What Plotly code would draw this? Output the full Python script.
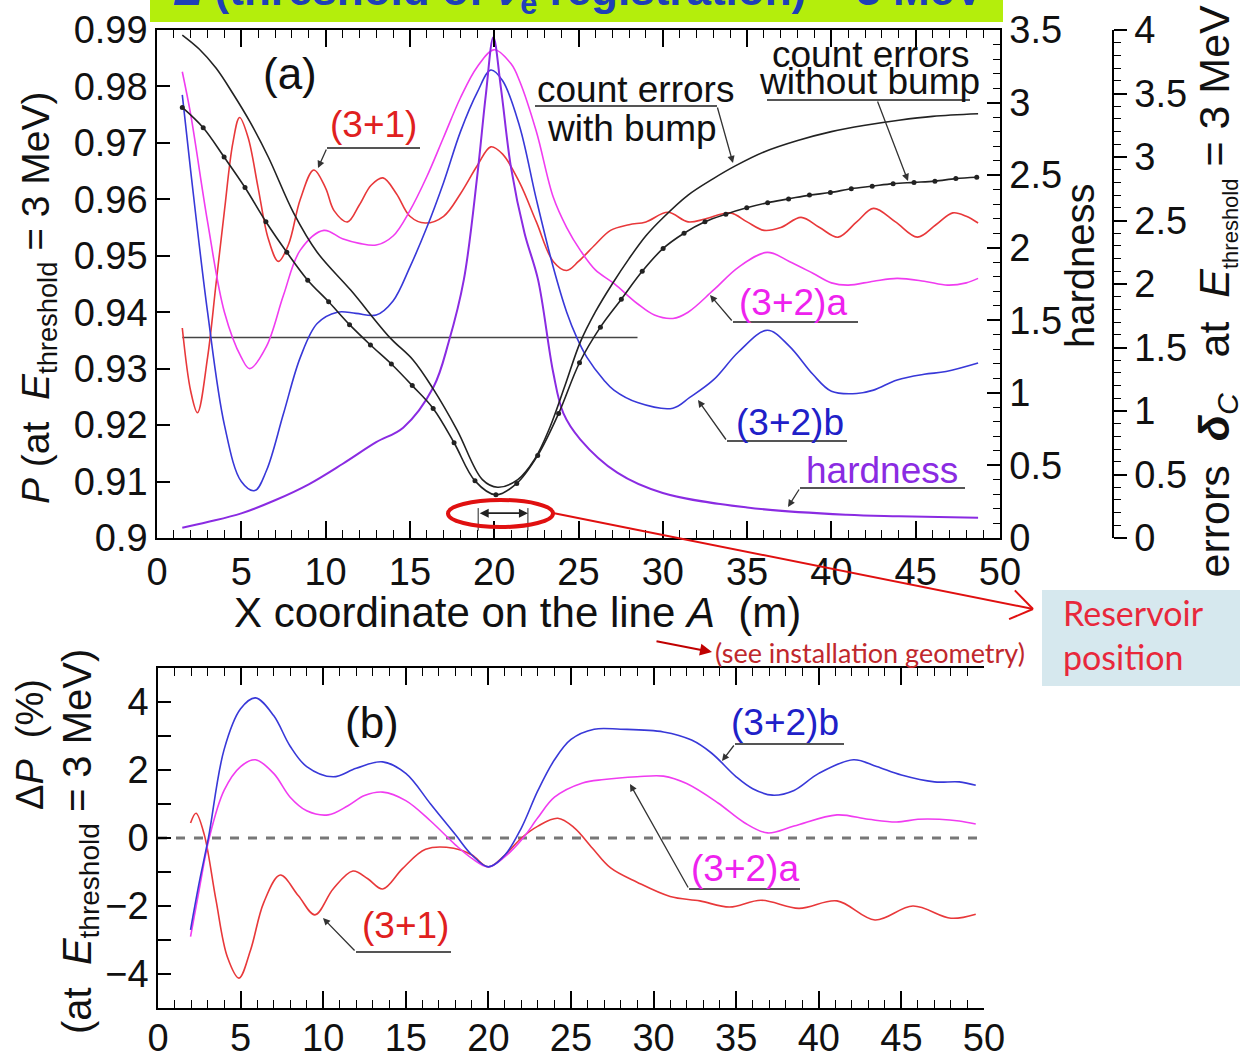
import math
import plotly.graph_objects as go

W, H = 1240, 1057

# ---------------- panel (a): probability P at E_threshold = 3 MeV ----------------
x_31_a = [1.5, 2.0, 2.4, 3.0, 3.5, 4.0, 4.5, 4.9, 5.4, 6.0, 6.6, 7.2, 7.8, 8.5, 9.3, 10.0,
          10.5, 11.3, 12.0, 12.7, 13.4, 14.2, 15.0, 15.9, 17.0, 18.0, 19.0, 19.8, 20.5, 21.5,
          22.5, 23.5, 24.3, 25.0, 26.0, 26.9, 28.0, 29.0, 30.3, 31.5, 32.5, 34.0, 35.0, 36.0,
          37.0, 38.2, 39.3, 40.4, 41.5, 42.5, 43.8, 45.1, 46.2, 47.2, 48.0, 48.7]
P_31_a = [0.9372, 0.926, 0.9222, 0.932, 0.945, 0.958, 0.970, 0.9745, 0.971, 0.962, 0.953,
          0.9490, 0.952, 0.960, 0.9652, 0.962, 0.958, 0.9560, 0.959, 0.9625, 0.9638, 0.961,
          0.957, 0.9558, 0.957, 0.961, 0.966, 0.9693, 0.968, 0.963, 0.956, 0.949, 0.9474,
          0.949, 0.952, 0.9545, 0.9555, 0.956, 0.9577, 0.956, 0.9565, 0.9576, 0.956, 0.9545,
          0.955, 0.9568, 0.955, 0.9533, 0.956, 0.9584, 0.956, 0.9533, 0.9555, 0.9576, 0.957,
          0.9558]

x_32a_a = [1.5, 2.0, 3.0, 4.0, 5.0, 5.5, 6.5, 7.5, 8.5, 9.9, 11.0, 12.0, 13.0, 14.0, 15.0,
           16.0, 17.0, 18.0, 19.0, 20.0, 21.0, 21.5, 22.5, 23.5, 24.3, 25.1, 26.0, 27.1, 28.5,
           29.5, 30.6, 31.5, 33.0, 34.5, 36.2, 37.5, 38.9, 40.0, 41.0, 42.5, 43.9, 45.5, 46.9,
           48.0, 48.7]
P_32a_a = [0.9826, 0.975, 0.956, 0.940, 0.932, 0.930, 0.934, 0.943, 0.951, 0.9545, 0.953,
           0.9522, 0.9519, 0.9535, 0.958, 0.964, 0.971, 0.978, 0.9835, 0.9865, 0.984, 0.981,
           0.972, 0.9604, 0.955, 0.951, 0.9475, 0.9451, 0.9415, 0.9395, 0.9389, 0.940, 0.9439,
           0.948, 0.9506, 0.949, 0.9469, 0.9452, 0.9448, 0.9455, 0.946, 0.9455, 0.9448, 0.9452,
           0.946]

x_32b_a = [1.5, 2.0, 3.0, 4.0, 5.0, 5.8, 6.5, 7.5, 8.5, 9.5, 10.7, 11.8, 13.0, 14.0, 15.0,
           16.0, 17.0, 18.0, 19.0, 19.8, 20.5, 21.5, 22.5, 23.5, 24.3, 24.9, 25.5, 26.5, 27.1,
           28.5, 30.6, 31.6, 33.0, 34.5, 36.2, 37.5, 38.9, 40.0, 41.5, 42.5, 43.9, 45.5, 46.8,
           48.7]
P_32b_a = [0.9785, 0.965, 0.940, 0.920, 0.910, 0.9084, 0.912, 0.922, 0.932, 0.938, 0.9400,
           0.9398, 0.9395, 0.942, 0.948, 0.955, 0.963, 0.972, 0.979, 0.9829, 0.981, 0.973,
           0.960, 0.948, 0.940, 0.9355, 0.932, 0.928, 0.9262, 0.924, 0.923, 0.9249, 0.928,
           0.933, 0.9368, 0.934, 0.929, 0.926, 0.9256, 0.9262, 0.928, 0.929, 0.9295, 0.931]

# reference (no-oscillation) level
x_ref_a = [1.5, 28.5]
P_ref_a = [0.9355, 0.9355]

# hardness (right axis)
x_hard = [1.5, 3.0, 5.0, 7.0, 9.0, 11.0, 13.0, 14.6, 16.4, 17.3, 18.2, 19.0, 19.5, 19.95,
          20.4, 21.0, 21.8, 22.6, 23.5, 24.1, 25.1, 27.3, 30.0, 35.0, 40.9, 44.0, 48.7]
hardness = [0.07, 0.11, 0.17, 0.26, 0.37, 0.51, 0.66, 0.76, 1.04, 1.35, 1.78, 2.5, 3.05,
            3.45, 3.1, 2.55, 2.1, 1.78, 1.14, 0.86, 0.68, 0.45, 0.31, 0.21, 0.16, 0.15, 0.14]

# count errors (far right axis)
x_err_bump = [1.5, 2.5, 3.5, 4.5, 5.5, 6.6, 8.1, 9.5, 11.5, 13.8, 15.2, 16.4, 17.8, 19.3,
              20.2, 21.4, 22.4, 23.3, 24.2, 25.1, 26.0, 27.0, 28.0, 29.0, 30.0, 31.5, 33.0,
              34.3, 36.0, 38.0, 40.0, 42.0, 44.0, 46.0, 48.7]
err_bump = [3.96, 3.85, 3.70, 3.50, 3.28, 3.00, 2.56, 2.25, 1.95, 1.58, 1.40, 1.17, 0.85,
            0.46, 0.40, 0.46, 0.62, 0.87, 1.20, 1.54, 1.78, 2.00, 2.20, 2.38, 2.52, 2.70,
            2.83, 2.93, 3.04, 3.13, 3.20, 3.25, 3.29, 3.32, 3.34]

x_err_nobump = [1.5, 2.74, 3.98, 5.22, 6.46, 7.7, 8.94, 10.18, 11.42, 12.66, 13.9, 15.14,
                16.38, 17.62, 18.86, 20.1, 21.34, 22.58, 23.82, 25.06, 26.3, 27.54, 28.78,
                30.02, 31.26, 32.5, 33.74, 34.98, 36.22, 37.46, 38.7, 39.94, 41.18, 42.42,
                43.66, 44.9, 46.14, 47.38, 48.62]
err_nobump = [3.39, 3.23, 3.00, 2.76, 2.49, 2.25, 2.03, 1.86, 1.68, 1.52, 1.37, 1.20, 1.02,
              0.75, 0.45, 0.34, 0.43, 0.65, 0.98, 1.38, 1.66, 1.88, 2.10, 2.28, 2.40, 2.49,
              2.55, 2.60, 2.64, 2.67, 2.70, 2.72, 2.75, 2.77, 2.79, 2.80, 2.81, 2.83, 2.84]

# reservoir extent on the X line
reservoir_x = [19.05, 22.0]
reservoir_P = 0.9044

# ---------------- panel (b): Delta P (%) ----------------
x_32b_b = [1.97, 2.5, 3.05, 4.0, 5.0, 5.9, 7.0, 8.0, 9.0, 10.6, 12.0, 13.6, 15.0, 16.5,
           18.0, 19.0, 20.0, 21.0, 22.0, 23.0, 24.0, 25.0, 26.4, 28.0, 30.6, 32.3, 33.5,
           35.0, 36.0, 37.2, 38.5, 40.0, 42.1, 43.5, 45.0, 47.0, 48.5, 49.5]
dP_32b_b = [-2.7, -1.3, 0.0, 2.6, 3.8, 4.12, 3.6, 2.7, 2.1, 1.8, 2.05, 2.24, 1.9, 1.0,
            0.1, -0.5, -0.85, -0.5, 0.3, 1.4, 2.3, 2.9, 3.2, 3.2, 3.12, 2.88, 2.5, 1.8,
            1.45, 1.26, 1.4, 1.9, 2.3, 2.1, 1.85, 1.65, 1.65, 1.55]

x_32a_b = [1.97, 2.5, 3.1, 4.0, 5.0, 5.9, 7.0, 8.0, 9.0, 10.3, 11.5, 12.5, 13.6, 15.0,
           16.5, 18.0, 19.0, 20.0, 21.0, 22.1, 23.0, 24.0, 25.7, 27.0, 29.0, 30.6, 32.0,
           33.9, 35.5, 36.9, 38.5, 41.1, 43.0, 44.7, 46.0, 47.3, 48.5, 49.5]
dP_32a_b = [-2.9, -1.5, 0.0, 1.4, 2.1, 2.3, 1.9, 1.2, 0.8, 0.68, 0.95, 1.25, 1.35, 1.1,
            0.5, -0.2, -0.6, -0.85, -0.55, 0.0, 0.6, 1.2, 1.62, 1.72, 1.8, 1.82, 1.6, 1.03,
            0.45, 0.15, 0.35, 0.68, 0.55, 0.47, 0.55, 0.55, 0.5, 0.41]

x_31_b = [1.97, 2.3, 2.8, 3.5, 4.2, 4.9, 5.6, 6.4, 7.4, 8.5, 9.5, 10.6, 11.8, 12.7, 13.6,
          14.8, 16.2, 17.9, 19.0, 20.0, 21.0, 22.0, 23.0, 24.2, 25.2, 26.3, 27.4, 29.0,
          31.0, 32.8, 34.6, 36.5, 38.8, 41.1, 43.4, 45.7, 48.0, 49.5]
dP_31_b = [0.44, 0.73, 0.1, -1.8, -3.5, -4.12, -3.3, -1.9, -1.09, -1.7, -2.26, -1.5, -0.97,
           -1.2, -1.5, -0.9, -0.33, -0.3, -0.5, -0.85, -0.5, 0.0, 0.35, 0.58, 0.3, -0.3,
           -0.88, -1.3, -1.72, -1.85, -2.03, -1.83, -2.07, -1.85, -2.41, -2.0, -2.36, -2.24]

zero_x = [0, 50]
zero_y = [0, 0]

# ticks
x_ticks = [0, 5, 10, 15, 20, 25, 30, 35, 40, 45, 50]

# ---------------- styling ----------------
RED = "#e8383a"
MAG = "#f03cf0"
BLUE = "#3838d8"
PURP = "#8a2be2"
BLK = "#222222"
GRAY = "#555555"
FONT = "Liberation Sans"
NB = "\u00a0"


def pxx(v):
    return v / W


def pxy(v):
    return 1 - v / H


fig = go.Figure()

line_kw = dict(shape="spline", smoothing=1.0)

fig.add_trace(go.Scatter(x=x_ref_a, y=P_ref_a, mode="lines", xaxis="x", yaxis="y",
                         line=dict(color="#444444", width=1.5)))
fig.add_trace(go.Scatter(x=x_hard, y=hardness, mode="lines", xaxis="x", yaxis="y2",
                         line=dict(color=PURP, width=2, **line_kw)))
fig.add_trace(go.Scatter(x=x_31_a, y=P_31_a, mode="lines", xaxis="x", yaxis="y",
                         line=dict(color=RED, width=1.6, **line_kw)))
fig.add_trace(go.Scatter(x=x_32a_a, y=P_32a_a, mode="lines", xaxis="x", yaxis="y",
                         line=dict(color=MAG, width=1.6, **line_kw)))
fig.add_trace(go.Scatter(x=x_32b_a, y=P_32b_a, mode="lines", xaxis="x", yaxis="y",
                         line=dict(color=BLUE, width=1.6, **line_kw)))
fig.add_trace(go.Scatter(x=x_err_bump, y=err_bump, mode="lines", xaxis="x", yaxis="y3",
                         line=dict(color=BLK, width=1.6, **line_kw)))
fig.add_trace(go.Scatter(x=x_err_nobump, y=err_nobump, mode="lines+markers", xaxis="x",
                         yaxis="y3", line=dict(color=BLK, width=1.6, **line_kw),
                         marker=dict(color=BLK, size=5)))

fig.add_trace(go.Scatter(x=zero_x, y=zero_y, mode="lines", xaxis="x2", yaxis="y4",
                         line=dict(color="#777777", width=3, dash="dash")))
fig.add_trace(go.Scatter(x=x_31_b, y=dP_31_b, mode="lines", xaxis="x2", yaxis="y4",
                         line=dict(color=RED, width=1.6, **line_kw)))
fig.add_trace(go.Scatter(x=x_32a_b, y=dP_32a_b, mode="lines", xaxis="x2", yaxis="y4",
                         line=dict(color=MAG, width=1.6, **line_kw)))
fig.add_trace(go.Scatter(x=x_32b_b, y=dP_32b_b, mode="lines", xaxis="x2", yaxis="y4",
                         line=dict(color=BLUE, width=1.6, **line_kw)))

tick_font = dict(family=FONT, size=38, color="#111111")
axis_common = dict(showline=True, linecolor="black", linewidth=1.5, showgrid=False,
                   zeroline=False, tickcolor="black", tickwidth=1.5, tickfont=tick_font,
                   automargin=False)

top_dom_y = [pxy(538), pxy(30)]
bot_dom_y = [pxy(1008), pxy(668)]

fig.update_layout(
    width=W, height=H, margin=dict(l=0, r=0, t=0, b=0, pad=0, autoexpand=False),
    paper_bgcolor="white", plot_bgcolor="rgba(0,0,0,0)", showlegend=False,
    xaxis=dict(domain=[pxx(157), pxx(1000)], range=[0, 50], anchor="y",
               tickvals=x_ticks, ticks="inside", ticklen=17, mirror="ticks",
               minor=dict(dtick=1, ticks="inside", ticklen=8, tickcolor="black", tickwidth=1.2),
               **axis_common),
    yaxis=dict(domain=top_dom_y, range=[0.9, 0.99], anchor="x", dtick=0.01,
               tickformat=".2~f", ticks="inside", ticklen=13, **axis_common),
    yaxis2=dict(domain=top_dom_y, range=[0, 3.5], anchor="x", overlaying="y", side="right",
                dtick=0.5, ticks="inside", ticklen=13,
                minor=dict(dtick=0.1, ticks="inside", ticklen=7, tickcolor="black", tickwidth=1.2),
                **axis_common),
    yaxis3=dict(domain=top_dom_y, range=[0, 4], anchor="free", overlaying="y", side="right",
                position=pxx(1113), dtick=0.5, ticks="outside", ticklen=13,
                minor=dict(dtick=0.1, ticks="outside", ticklen=7, tickcolor="black", tickwidth=1.2),
                **axis_common),
    xaxis2=dict(domain=[pxx(158), pxx(984)], range=[0, 50], anchor="y4",
                tickvals=x_ticks, ticks="inside", ticklen=17, mirror="ticks",
                ticklabelstandoff=-4,
                minor=dict(dtick=1, ticks="inside", ticklen=8, tickcolor="black", tickwidth=1.2),
                **axis_common),
    yaxis4=dict(domain=bot_dom_y, range=[-5, 5], anchor="x2", dtick=2,
                ticks="inside", ticklen=13,
                minor=dict(dtick=1, ticks="inside", ticklen=13, tickcolor="black", tickwidth=1.5),
                **axis_common),
    yaxis5=dict(domain=bot_dom_y, range=[-5, 5], anchor="x2", overlaying="y4",
                side="right", dtick=2, ticks="inside", ticklen=13,
                minor=dict(dtick=1, ticks="inside", ticklen=13, tickcolor="black", tickwidth=1.5),
                **axis_common),
)

# ---------------- decorations ----------------
shapes = []
annots = []


def txt(x, y, s, size=36, color="#111111", family=FONT, angle=0, xa="center", ya="middle"):
    annots.append(dict(x=pxx(x), y=pxy(y), xref="paper", yref="paper", text=s,
                       showarrow=False, textangle=angle, xanchor=xa, yanchor=ya,
                       font=dict(family=family, size=size, color=color)))


def seg(x0, y0, x1, y1, color=GRAY, width=2):
    shapes.append(dict(type="line", xref="paper", yref="paper", x0=pxx(x0), y0=pxy(y0),
                       x1=pxx(x1), y1=pxy(y1), line=dict(color=color, width=width)))


def arrow(xt, yt, xh, yh, color="#333333", width=1.3, head=2, size=1.1):
    annots.append(dict(x=pxx(xh), y=pxy(yh), xref="paper", yref="paper", text="",
                       showarrow=True, ax=xt - xh, ay=yt - yh, arrowhead=head,
                       arrowsize=size, arrowwidth=width, arrowcolor=color, standoff=0))


# reservoir double arrow (data coordinates)
annots.append(dict(x=reservoir_x[1], y=reservoir_P, ax=reservoir_x[0], ay=reservoir_P,
                   xref="x", yref="y", axref="x", ayref="y", text="", showarrow=True,
                   arrowhead=2, arrowside="end+start", arrowsize=1, arrowwidth=1.8,
                   arrowcolor=BLK))
for rx in reservoir_x:
    shapes.append(dict(type="line", xref="x", yref="y", x0=rx, x1=rx, y0=0.9013, y1=0.9053,
                       line=dict(color=BLK, width=1)))

# green banner (cut off at top)
shapes.append(dict(type="rect", xref="paper", yref="paper", x0=pxx(150), x1=pxx(1003),
                   y0=pxy(22), y1=1.0, fillcolor="#b4ee0c", line=dict(width=0), layer="above"))
txt(578, -7, "<b><i>E</i> (threshold of <i>ν</i><sub>e</sub> registration) = 3 MeV</b>",
    size=44, color="#1f3fb8")

# panel labels
txt(290, 73, "(a)", size=44)
txt(372, 722, "(b)", size=44)

SUBTH = '<sub><span style="font-size:22px">threshold</span></sub>'

# axis titles
txt(38, 298, "<i>P</i> (at  <i>E</i><sub>threshold</sub> = 3 MeV)", size=39, angle=-90)
txt(517, 612, "X coordinate on the line <i>A</i>  (m)", size=42)
txt(1080, 266, "hardness", size=40, angle=-90)
txt(1216, 580,
    "errors" + NB * 2 + "<b><i>δ</i></b><sub><i>C</i></sub>" + NB * 3 + "at" + NB * 2
    + "<i>E</i>" + SUBTH + NB + "=" + NB + "3" + NB + "MeV" + NB + "(%)",
    size=43, angle=-90, ya="bottom")
txt(30, 745, "Δ<i>P</i>  (%)", size=38, angle=-90)
txt(80, 842, "(at  <i>E</i><sub>threshold</sub> = 3 MeV)", size=40, angle=-90)

# curve labels, panel (a)
txt(373, 124, "(3+1)", size=37, color="#e02020")
seg(327, 148, 420, 148)
arrow(327, 148, 318, 168)

txt(635, 89, "count errors", size=37)
txt(632, 128, "with bump", size=37)
seg(535, 106, 717, 106)
arrow(717, 106, 733, 163)

txt(870, 55, "count errors", size=37)
txt(869, 81, "without bump", size=37)
seg(767, 100, 970, 100)
arrow(877, 100, 908, 181)

txt(793, 302, "(3+2)a", size=37, color="#ee22ee")
seg(733, 322, 858, 322)
arrow(733, 322, 710, 295)

txt(790, 422, "(3+2)b", size=37, color="#2020c8")
seg(727, 441, 847, 441)
arrow(727, 441, 698, 400)

txt(882, 470, "hardness", size=37, color=PURP)
seg(800, 488, 965, 488)
arrow(800, 488, 788, 507)

# curve labels, panel (b)
txt(785, 722, "(3+2)b", size=37, color="#2020c8")
seg(735, 744, 844, 744)
arrow(735, 744, 722, 761)

txt(745, 868, "(3+2)a", size=37, color="#ee22ee")
seg(689, 889, 800, 889)
arrow(689, 889, 630, 784)

txt(405, 925, "(3+1)", size=37, color="#e02020")
seg(356, 952, 451, 952)
arrow(356, 952, 323, 918)

# reservoir ellipse and pointer
shapes.append(dict(type="circle", xref="paper", yref="paper", x0=pxx(448), x1=pxx(553),
                   y0=pxy(527), y1=pxy(500), line=dict(color="#e01010", width=4)))
tip = (1033, 609)
start = (553, 513)
seg(start[0], start[1], tip[0], tip[1], color="#e01010", width=2)
dx, dy = tip[0] - start[0], tip[1] - start[1]
ln = math.hypot(dx, dy)
ux, uy = dx / ln, dy / ln
for ang in (0.6, -0.6):
    ca, sa = math.cos(ang), math.sin(ang)
    bx = -(ux * ca - uy * sa) * 26
    by = -(ux * sa + uy * ca) * 26
    seg(tip[0], tip[1], tip[0] + bx, tip[1] + by, color="#e01010", width=2)

shapes.append(dict(type="rect", xref="paper", yref="paper", x0=pxx(1042), x1=1.0,
                   y0=pxy(686), y1=pxy(590), fillcolor="#d6e8ee", line=dict(width=0),
                   layer="below"))
txt(1061, 612, "Reservoir", size=34, color="#e8283c", family="Lato", xa="left")
txt(1061, 656, "position", size=34, color="#e8283c", family="Lato", xa="left")

txt(713, 652, "(see installation geometry)", size=27, color="#c0282d", family="Lato", xa="left")
arrow(655, 641, 712, 652, color="#c00000", width=2, head=2, size=1.2)

fig.update_layout(shapes=shapes, annotations=annots)
fig.write_html("out.html")
